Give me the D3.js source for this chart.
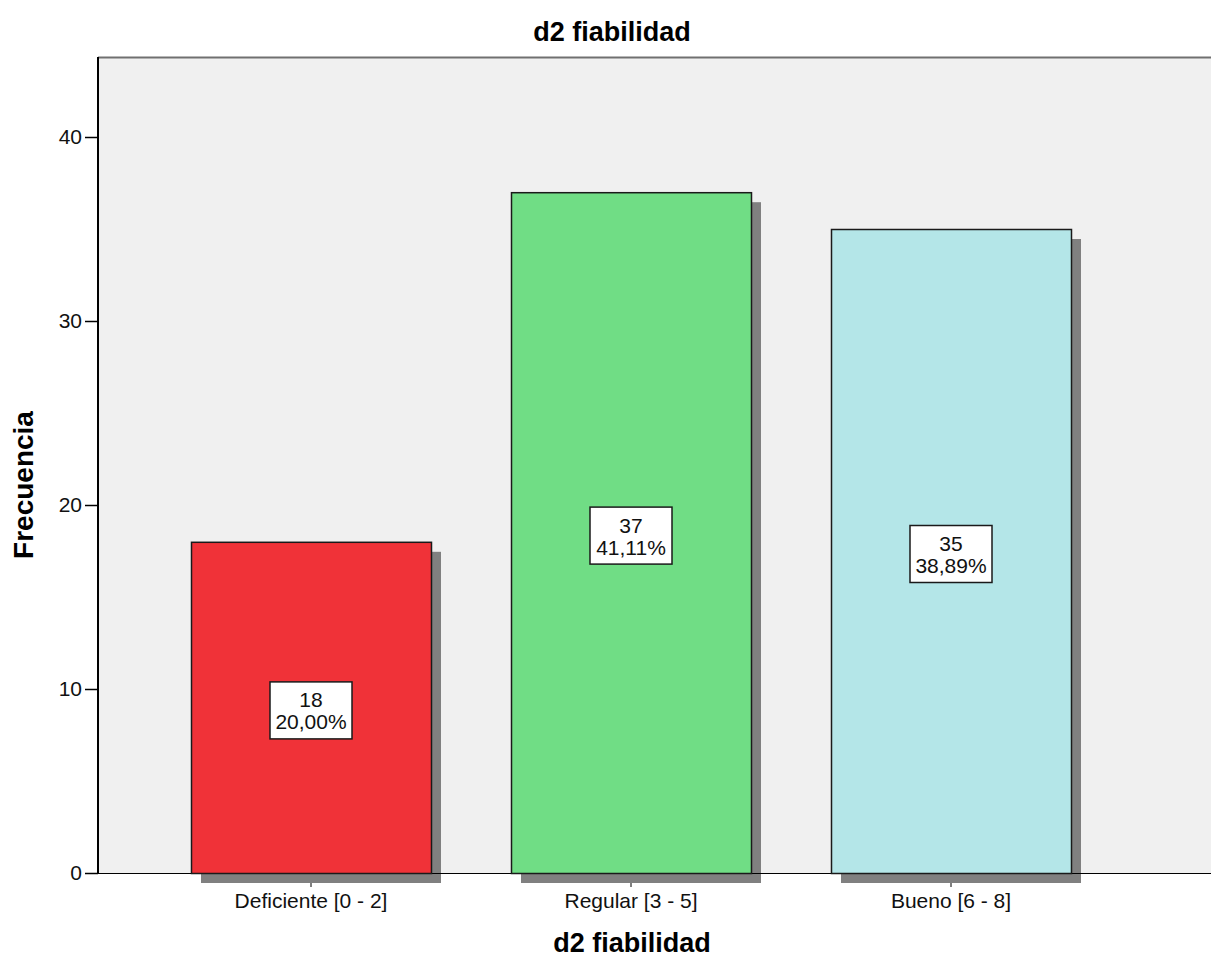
<!DOCTYPE html>
<html>
<head>
<meta charset="utf-8">
<script src="https://cdn.jsdelivr.net/npm/d3@7"></script>
<style>
  html, body { margin: 0; padding: 0; background: #ffffff; }
  svg { display: block; font-family: "Liberation Sans", Arial, sans-serif; }
</style>
</head>
<body>
<svg id="chart" width="1211" height="959"></svg>
<script>
const categories = ["Deficiente [0 - 2]", "Regular [3 - 5]", "Bueno [6 - 8]"];
const counts = [18, 37, 35];
const percents = ["20,00%", "41,11%", "38,89%"];
const barColors = ["#F03238", "#70DD85", "#B4E6E8"];
const yTicks = [0, 10, 20, 30, 40];
const chartTitle = "d2 fiabilidad";
const xTitle = "d2 fiabilidad";
const yTitle = "Frecuencia";

const svg = d3.select("#chart");
const W = 1211, H = 959;
const plot = { left: 98, top: 57, right: 1240, bottom: 873 };

const y = d3.scaleLinear().domain([0, 40]).range([873, 137]);
const x = d3.scaleBand().domain(categories).range([151, 1111]).paddingInner(0.25).paddingOuter(0.125);

// plot background
svg.append("rect")
  .attr("x", plot.left).attr("y", plot.top)
  .attr("width", plot.right - plot.left).attr("height", plot.bottom - plot.top)
  .attr("fill", "#F0F0F0");
// top frame line
svg.append("line")
  .attr("x1", plot.left).attr("x2", plot.right)
  .attr("y1", plot.top + 0.5).attr("y2", plot.top + 0.5)
  .attr("stroke", "#707070").attr("stroke-width", 2);

// x axis ticks (drawn under the shadows)
const xAxis = d3.axisBottom(x).tickSize(14).tickPadding(8);
const gx = svg.append("g").attr("transform", `translate(0,${plot.bottom})`).call(xAxis);
gx.select(".domain").remove();
gx.selectAll(".tick line").attr("stroke", "#000");
gx.selectAll(".tick text").attr("font-size", 21).attr("fill", "#111")
  .attr("font-family", "Liberation Sans, Arial, sans-serif").attr("dy", "0.71em")
  .attr("y", 20);

// shadows
const data = categories.map((c, i) => ({ c, v: counts[i], p: percents[i], col: barColors[i] }));
svg.append("g").selectAll("rect").data(data).join("rect")
  .attr("x", d => x(d.c) + 10)
  .attr("y", d => y(d.v) + 10)
  .attr("width", x.bandwidth())
  .attr("height", d => y(0) - y(d.v))
  .attr("fill", "#808080");

// x axis line
svg.append("line")
  .attr("x1", plot.left).attr("x2", W)
  .attr("y1", plot.bottom + 0.5).attr("y2", plot.bottom + 0.5)
  .attr("stroke", "#000").attr("stroke-width", 1);

// bars
svg.append("g").selectAll("rect").data(data).join("rect")
  .attr("x", d => x(d.c) + 0.5)
  .attr("y", d => y(d.v) + 0.5)
  .attr("width", x.bandwidth())
  .attr("height", d => y(0) - y(d.v))
  .attr("fill", d => d.col)
  .attr("stroke", "#1a1a1a").attr("stroke-width", 1.5);

// y axis
const yAxis = d3.axisLeft(y).tickValues(yTicks).tickSize(13).tickPadding(3);
const gy = svg.append("g").attr("transform", `translate(${plot.left},0)`).call(yAxis);
gy.select(".domain").remove();
gy.selectAll(".tick line").attr("stroke", "#000").attr("stroke-width", 1.5);
gy.selectAll(".tick text").attr("font-size", 21).attr("fill", "#111")
  .attr("font-family", "Liberation Sans, Arial, sans-serif");
svg.append("line")
  .attr("x1", plot.left).attr("x2", plot.left)
  .attr("y1", plot.top).attr("y2", plot.bottom + 1)
  .attr("stroke", "#000").attr("stroke-width", 2);

// data labels
const lab = svg.append("g").selectAll("g").data(data).join("g")
  .attr("transform", d => `translate(${x(d.c) + x.bandwidth() / 2},${y(d.v / 2) + 3})`);
lab.append("rect")
  .attr("x", -41).attr("y", -28.5).attr("width", 82).attr("height", 57)
  .attr("fill", "#ffffff").attr("stroke", "#1a1a1a").attr("stroke-width", 1.5);
lab.append("text").attr("text-anchor", "middle").attr("y", -3)
  .attr("font-size", 21).attr("fill", "#111").text(d => d.v);
lab.append("text").attr("text-anchor", "middle").attr("y", 19)
  .attr("font-size", 21).attr("fill", "#111").text(d => d.p);

// titles
svg.append("text").attr("x", 612).attr("y", 41).attr("text-anchor", "middle")
  .attr("font-size", 27).attr("font-weight", "bold").attr("fill", "#000").text(chartTitle);
svg.append("text").attr("x", 632).attr("y", 952).attr("text-anchor", "middle")
  .attr("font-size", 27).attr("font-weight", "bold").attr("fill", "#000").text(xTitle);
svg.append("text").attr("transform", "translate(33,485) rotate(-90)").attr("text-anchor", "middle")
  .attr("font-size", 28).attr("font-weight", "bold").attr("fill", "#000").text(yTitle);
</script>
</body>
</html>
